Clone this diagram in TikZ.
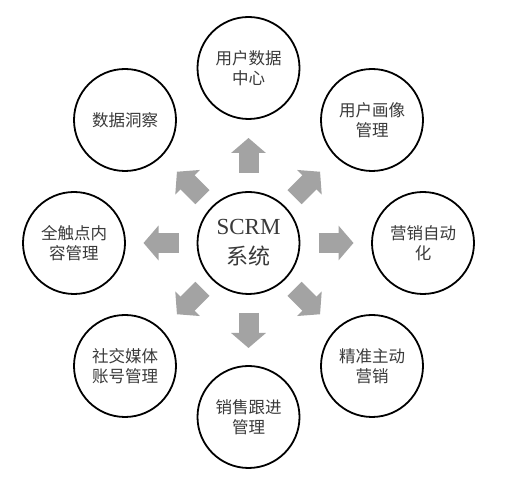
\documentclass[tikz,border=0pt]{standalone}
\usepackage{fontspec}
\setmainfont{Liberation Serif}
\newfontfamily\cjk{Noto Sans CJK SC}
\usetikzlibrary{arrows.meta,calc}
\definecolor{txt}{HTML}{3A3A3A}
\definecolor{arr}{HTML}{A3A3A3}
\begin{document}
\begin{tikzpicture}[x=1pt,y=1pt,
  circ/.style={circle,draw=black,line width=1.8pt,minimum size=102pt,inner sep=0pt,
    align=center,text=txt,font=\cjk\fontsize{16.5}{20}\selectfont},
  centre/.style={circ,font=\fontsize{23}{30}\selectfont},
  bigarrow/.style={draw=arr,line width=20pt,-{Triangle[length=15pt,width=34pt,fill=arr]}}]
\useasboundingbox (0,0) rectangle (517,478);
\fill[white] (0,0) rectangle (517,478);
\node[centre] (c) at (248.5,235) {SCRM\\{\cjk\fontsize{22}{30}\selectfont 系统}};
\node[circ] (t) at (248.5,410) {用户数据\\中心};
\node[circ] (tl) at (125,358) {数据洞察};
\node[circ] (tr) at (372,358) {用户画像\\管理};
\node[circ] (l) at (74,235) {全触点内\\容管理};
\node[circ] (r) at (423,235) {营销自动\\化};
\node[circ] (bl) at (125,112) {社交媒体\\账号管理};
\node[circ] (br) at (372,112) {精准主动\\营销};
\node[circ] (b) at (248.5,61) {销售跟进\\管理};
\foreach \n in {t,l,r,b}{
  \draw[bigarrow] ($(c.center)!70pt!(\n.center)$) -- ($(c.center)!105pt!(\n.center)$);
}
\foreach \n in {tl,tr,bl,br}{
  \draw[bigarrow] ($(c.center)!65pt!(\n.center)$) -- ($(c.center)!101pt!(\n.center)$);
}
\end{tikzpicture}
\end{document}
